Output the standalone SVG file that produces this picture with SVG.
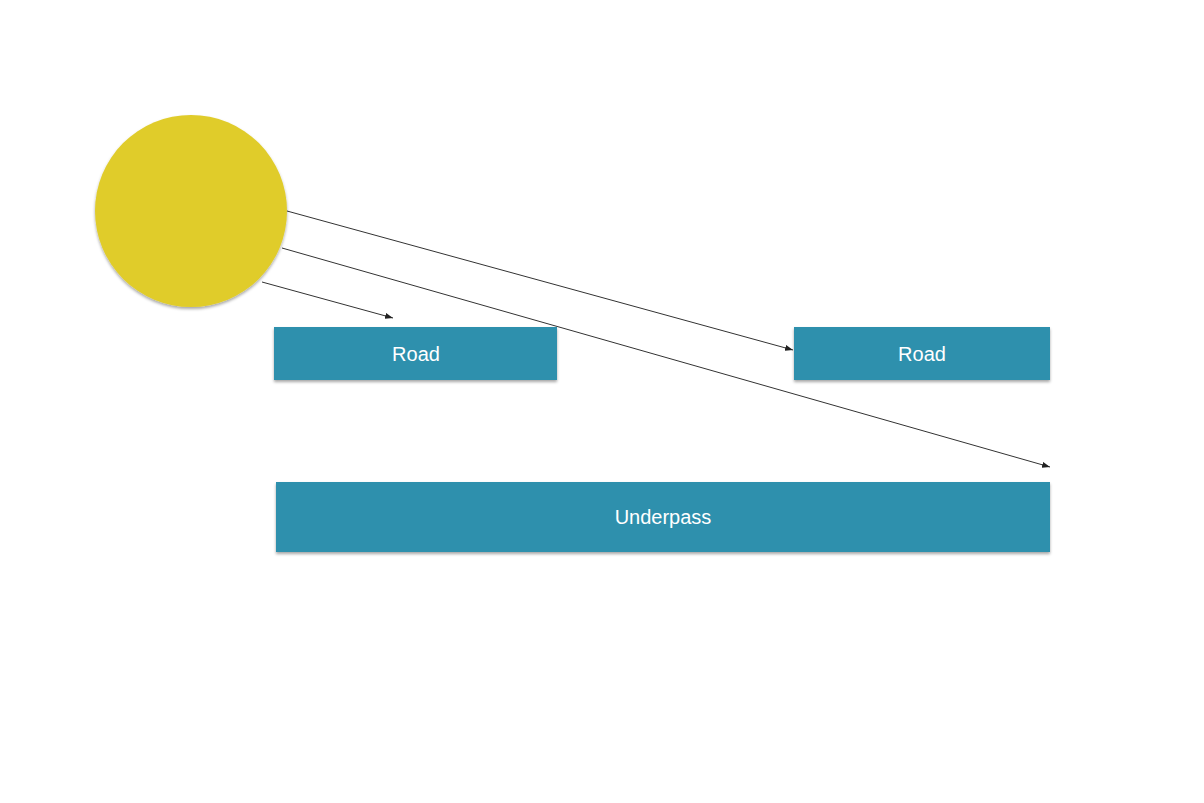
<svg xmlns="http://www.w3.org/2000/svg" width="1204" height="803" viewBox="0 0 1204 803">
<style>
.box{fill:#2f90ad;filter:url(#sh)}
.lbl{font-family:"Liberation Sans",Arial,sans-serif;font-size:20px;fill:#ffffff;text-anchor:middle}
.ray{stroke:#333;stroke-width:1;fill:none;marker-end:url(#ah)}
</style>
<defs>
<filter id="sh" x="-10%" y="-10%" width="120%" height="130%"><feDropShadow dx="0" dy="2" stdDeviation="1.5" flood-color="#000" flood-opacity="0.35"/></filter>
<marker id="ah" markerWidth="8" markerHeight="6" refX="8" refY="3" orient="auto" markerUnits="userSpaceOnUse"><path d="M0,0 L8,3 L0,6 Z" fill="#222"/></marker>
</defs>
<rect width="1204" height="803" fill="#fff"/>
<g id="sun"><circle cx="191" cy="211" r="96" fill="#e0cc2c" filter="url(#sh)"/></g>
<g id="road1"><rect class="box" x="274" y="327" width="283" height="53"/><text class="lbl" x="416" y="361">Road</text></g>
<g id="road2"><rect class="box" x="794" y="327" width="256" height="53"/><text class="lbl" x="922" y="361">Road</text></g>
<g id="underpass"><rect class="box" x="276" y="482" width="774" height="70"/><text class="lbl" x="663" y="524">Underpass</text></g>
<g id="connectors">
<line class="ray" x1="287" y1="211" x2="793" y2="350"/>
<line class="ray" x1="282" y1="248" x2="1050" y2="467"/>
<line class="ray" x1="262" y1="282" x2="393" y2="318"/>
</g>
</svg>
